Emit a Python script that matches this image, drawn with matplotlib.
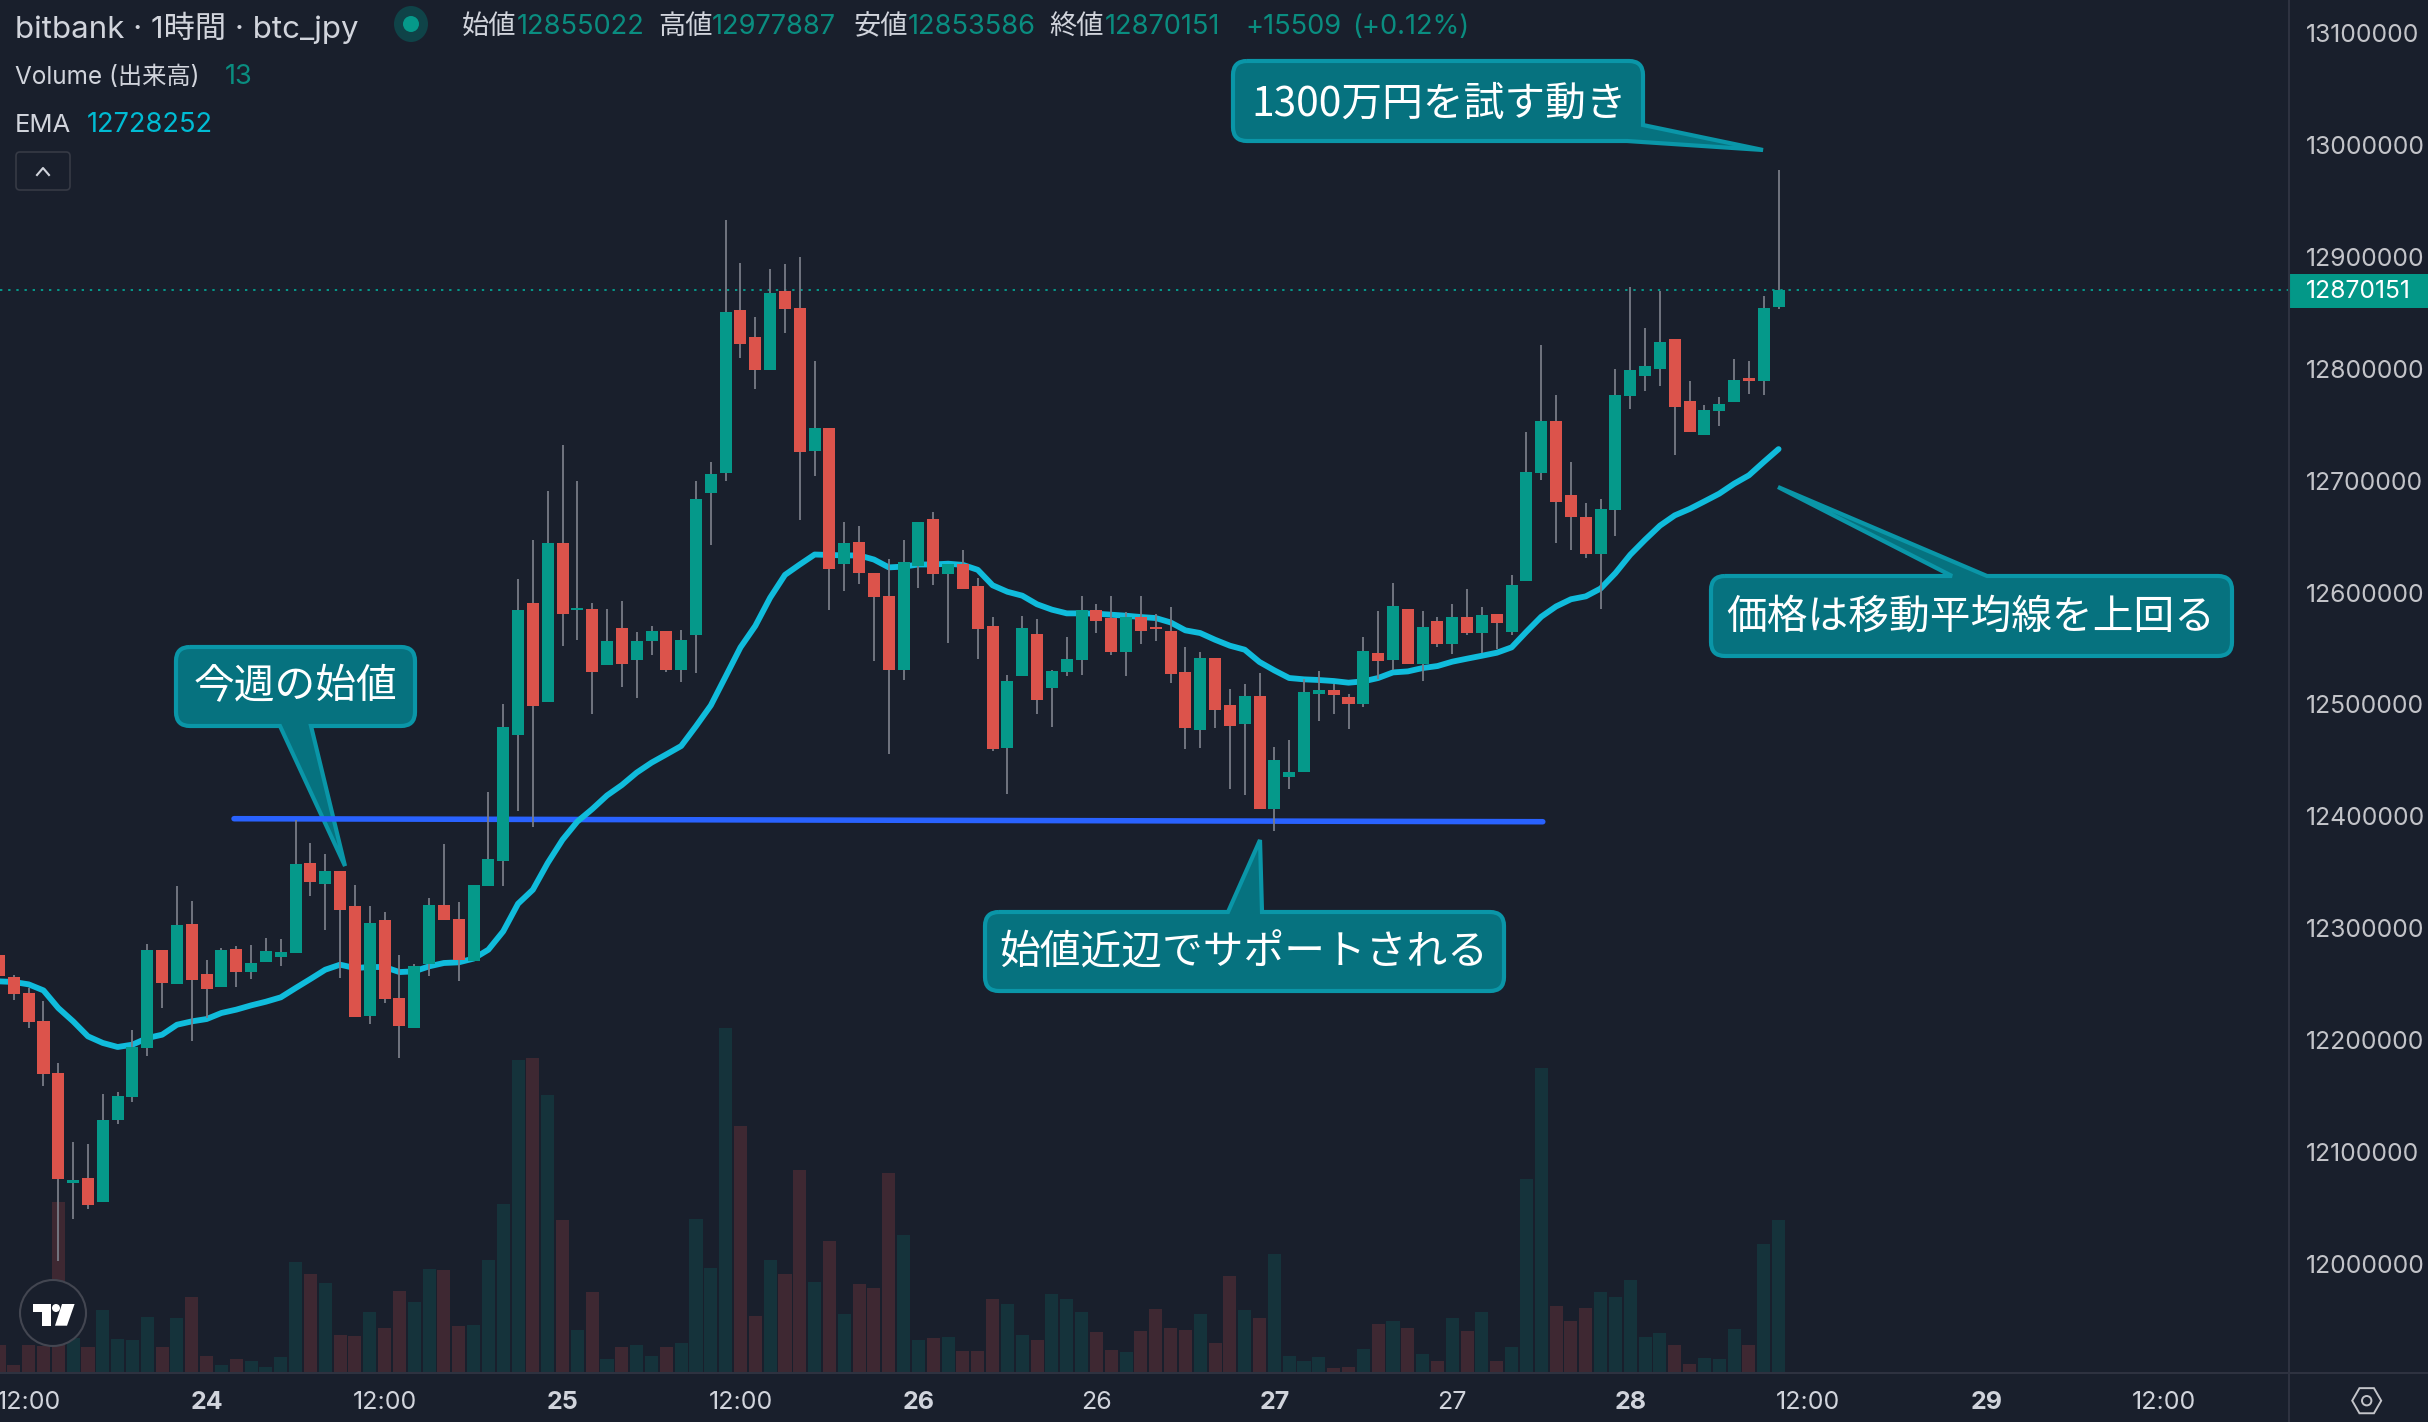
import numpy as np
import matplotlib
matplotlib.use("Agg")
import matplotlib.pyplot as plt
from matplotlib.patches import Circle, Ellipse, FancyBboxPatch, PathPatch, Polygon, Rectangle, RegularPolygon
from matplotlib.path import Path

# prices in thousand yen
opens = [12276.2, 12256.6, 12242.3, 12217.2, 12170.7, 12072.4, 12076.9, 12055.4, 12128.7, 12149.3,
         12193.1, 12280.7, 12250.3, 12303.9, 12259.2, 12247.6, 12281.6, 12261.0, 12270.0, 12274.4,
         12278.0, 12358.5, 12339.7, 12351.3, 12320.0, 12221.7, 12307.5, 12237.8, 12211.0, 12268.2,
         12320.9, 12308.4, 12270.9, 12337.9, 12360.3, 12472.8, 12591.0, 12502.4, 12644.7, 12584.7,
         12585.4, 12535.4, 12568.7, 12539.8, 12556.9, 12565.8, 12531.0, 12562.4, 12689.2, 12707.0,
         12853.0, 12828.9, 12799.3, 12869.7, 12854.5, 12727.0, 12747.4, 12625.1, 12645.5, 12617.7,
         12597.3, 12531.0, 12623.6, 12665.8, 12617.0, 12625.1, 12606.2, 12570.2, 12460.9, 12525.8,
         12563.2, 12514.9, 12529.2, 12540.0, 12584.7, 12577.5, 12547.1, 12578.4, 12569.5, 12565.9,
         12529.2, 12477.4, 12541.7, 12499.7, 12482.7, 12507.8, 12406.8, 12435.4, 12439.8, 12509.6,
         12513.1, 12506.9, 12500.6, 12546.2, 12540.0, 12585.6, 12536.4, 12574.8, 12554.3, 12578.4,
         12564.1, 12581.1, 12565.0, 12610.6, 12707.1, 12753.6, 12687.5, 12667.8, 12634.7, 12674.1,
         12776.0, 12793.9, 12800.1, 12826.9, 12771.5, 12741.1, 12762.6, 12770.6, 12792.1, 12789.4,
         12855.022]
highs = [12280.7, 12258.4, 12246.4, 12235.1, 12179.7, 12109.0, 12107.3, 12152.0, 12153.8, 12209.2,
         12286.1, 12280.7, 12337.9, 12324.5, 12271.8, 12282.5, 12284.3, 12285.2, 12291.4, 12290.5,
         12396.9, 12376.4, 12366.5, 12351.3, 12338.8, 12320.0, 12314.7, 12276.2, 12268.2, 12327.2,
         12375.5, 12323.6, 12338.8, 12422.0, 12500.5, 12612.5, 12647.3, 12691.0, 12732.2, 12700.0,
         12591.0, 12585.4, 12592.8, 12565.0, 12570.2, 12565.8, 12566.9, 12700.0, 12717.0, 12933.4,
         12894.9, 12846.7, 12889.7, 12894.1, 12900.1, 12807.4, 12747.4, 12663.2, 12659.9, 12617.7,
         12630.3, 12647.3, 12663.2, 12672.1, 12625.1, 12638.4, 12613.2, 12578.4, 12526.5, 12579.1,
         12576.5, 12531.0, 12560.5, 12597.2, 12590.0, 12597.2, 12582.9, 12597.2, 12581.1, 12587.3,
         12551.6, 12547.1, 12541.7, 12514.0, 12518.5, 12528.3, 12462.2, 12468.4, 12523.0, 12530.1,
         12518.5, 12509.6, 12560.5, 12583.8, 12608.8, 12585.6, 12583.8, 12578.4, 12590.0, 12603.4,
         12587.3, 12581.1, 12615.9, 12743.8, 12821.6, 12776.9, 12717.0, 12680.3, 12683.9, 12800.1,
         12873.4, 12836.8, 12869.8, 12826.9, 12789.4, 12767.9, 12775.1, 12809.1, 12807.3, 12865.4,
         12977.887]
lows = [12253.9, 12236.0, 12211.0, 12158.5, 12002.1, 12040.2, 12049.2, 12055.4, 12125.1, 12144.8,
        12185.9, 12228.8, 12250.3, 12199.3, 12219.9, 12247.6, 12247.6, 12254.8, 12270.0, 12266.4,
        12278.0, 12329.0, 12298.6, 12255.7, 12220.8, 12214.5, 12233.3, 12184.2, 12211.0, 12257.5,
        12307.5, 12253.0, 12270.9, 12337.9, 12337.9, 12404.6, 12390.8, 12502.4, 12552.4, 12557.2,
        12491.6, 12535.4, 12515.8, 12506.1, 12544.3, 12529.1, 12520.2, 12528.4, 12642.9, 12700.0,
        12810.0, 12782.2, 12799.3, 12832.2, 12665.1, 12704.4, 12584.7, 12601.7, 12608.0, 12538.4,
        12456.1, 12522.0, 12604.3, 12607.0, 12555.0, 12603.6, 12541.0, 12458.7, 12420.1, 12525.8,
        12491.6, 12480.1, 12525.7, 12526.6, 12564.1, 12544.4, 12525.7, 12554.3, 12556.9, 12519.4,
        12460.4, 12461.3, 12479.2, 12424.6, 12419.3, 12406.8, 12387.1, 12424.6, 12439.8, 12485.4,
        12491.7, 12478.3, 12497.9, 12523.0, 12531.0, 12536.4, 12521.2, 12551.6, 12545.3, 12562.3,
        12546.2, 12549.8, 12562.3, 12610.6, 12700.9, 12644.6, 12638.3, 12631.1, 12585.5, 12650.8,
        12764.4, 12780.4, 12784.9, 12723.2, 12743.8, 12741.1, 12749.2, 12770.6, 12777.8, 12776.9,
        12853.586]
closes = [12256.9, 12241.4, 12216.3, 12169.8, 12076.0, 12075.1, 12052.7, 12128.7, 12150.2, 12194.0,
          12280.7, 12251.2, 12303.0, 12253.9, 12245.8, 12280.7, 12261.0, 12269.1, 12279.8, 12278.9,
          12357.6, 12341.5, 12351.3, 12316.5, 12220.8, 12304.8, 12236.9, 12212.8, 12266.4, 12320.9,
          12307.5, 12271.8, 12338.8, 12362.1, 12480.2, 12584.7, 12498.7, 12644.7, 12581.0, 12586.5,
          12529.1, 12556.9, 12536.5, 12556.9, 12565.8, 12531.0, 12558.0, 12684.0, 12706.2, 12851.1,
          12822.6, 12799.3, 12868.2, 12853.7, 12725.9, 12747.4, 12621.4, 12644.7, 12617.7, 12596.2,
          12531.0, 12627.7, 12663.2, 12617.0, 12625.1, 12603.6, 12567.6, 12460.2, 12521.3, 12568.7,
          12504.3, 12530.1, 12540.9, 12584.7, 12574.8, 12547.1, 12578.4, 12565.9, 12567.7, 12527.4,
          12479.2, 12541.7, 12495.3, 12481.0, 12507.8, 12406.8, 12450.6, 12439.8, 12511.4, 12513.1,
          12508.7, 12500.6, 12548.0, 12539.1, 12588.2, 12536.4, 12569.5, 12554.3, 12578.4, 12564.1,
          12580.2, 12573.0, 12607.0, 12708.0, 12753.6, 12681.2, 12667.8, 12634.7, 12674.9, 12776.9,
          12799.2, 12802.8, 12824.3, 12766.1, 12743.8, 12763.5, 12768.8, 12790.3, 12789.4, 12854.6,
          12870.151]
ema = [12252.4, 12251.8, 12249.7, 12244.3, 12228.5, 12216.6, 12203.2, 12197.3, 12193.7, 12195.8,
       12201.7, 12204.7, 12213.6, 12216.6, 12218.7, 12224.1, 12227.1, 12230.9, 12234.2, 12238.1,
       12246.4, 12254.5, 12262.8, 12267.3, 12264.3, 12265.2, 12265.2, 12260.7, 12261.3, 12265.8,
       12268.8, 12269.4, 12272.7, 12280.7, 12297.1, 12321.8, 12334.3, 12358.2, 12379.0, 12395.3,
       12406.4, 12418.6, 12427.9, 12439.0, 12447.9, 12455.3, 12462.8, 12480.5, 12499.1, 12525.0,
       12551.0, 12570.2, 12595.4, 12615.8, 12625.1, 12634.0, 12633.6, 12633.2, 12633.2, 12629.5,
       12622.5, 12623.2, 12625.1, 12625.1, 12625.8, 12624.7, 12620.3, 12606.5, 12600.7, 12597.2,
       12589.5, 12584.7, 12581.4, 12581.4, 12581.1, 12580.2, 12579.3, 12578.1, 12577.2, 12573.3,
       12566.2, 12563.8, 12557.8, 12552.5, 12548.9, 12537.9, 12530.4, 12523.6, 12522.4, 12521.8,
       12520.9, 12519.4, 12520.6, 12523.6, 12528.6, 12529.5, 12532.5, 12534.3, 12538.2, 12540.9,
       12543.5, 12546.2, 12551.0, 12565.0, 12578.4, 12587.6, 12594.0, 12596.6, 12603.6, 12617.4,
       12633.8, 12647.2, 12659.8, 12669.0, 12674.7, 12681.5, 12688.4, 12697.3, 12704.8, 12716.7,
       12728.252]
volumes = [2.3, 0.6, 2.3, 2.2, 14.5, 2.9, 2.1, 5.3, 2.8, 2.7, 4.7, 2.1, 4.6, 6.4, 1.4, 0.6, 1.1, 0.9, 0.4, 1.3,
           9.4, 8.4, 7.6, 3.2, 3.1, 5.1, 3.8, 6.9, 6.0, 8.8, 8.7, 3.9, 4.0, 9.6, 14.4, 26.7, 26.8, 23.7, 13.0, 3.6,
           6.8, 1.1, 2.1, 2.3, 1.4, 2.1, 2.5, 13.1, 8.9, 29.4, 21.0, 4.8, 9.6, 8.4, 17.3, 7.7, 11.2, 5.0, 7.5, 7.2,
           17.0, 11.7, 2.7, 2.9, 3.0, 1.8, 1.8, 6.2, 5.8, 3.2, 2.7, 6.7, 6.2, 5.1, 3.4, 1.9, 1.7, 3.5, 5.4, 3.8,
           3.6, 5.0, 2.5, 8.2, 5.3, 4.6, 10.1, 1.4, 0.9, 1.3, 0.3, 0.4, 2.0, 4.1, 4.4, 3.8, 1.5, 0.9, 4.6, 3.5,
           5.1, 0.9, 2.1, 16.5, 26.0, 5.6, 4.4, 5.5, 6.8, 6.4, 7.9, 3.0, 3.3, 2.3, 0.7, 1.2, 1.1, 3.7, 2.3, 10.9,
           13.0]

x_ticks = [2, 14, 26, 38, 50, 62, 74, 86, 98, 110, 122, 134, 146]
x_labels = ["12:00", "24", "12:00", "25", "12:00", "26", "26", "27", "27", "28", "12:00", "29", "12:00"]
x_bold = ["24", "25", "26", "27", "28", "29"]
y_ticks = [12000000, 12100000, 12200000, 12300000, 12400000, 12500000,
           12600000, 12700000, 12800000, 12900000, 13000000, 13100000]
last_price = 12870151
support_bars = [15.85, 104.1]
support_prices = [12397800, 12395100]

BG = "#191f2c"
GREEN = "#05998a"
RED = "#dc534b"
VOL_GREEN = "#15333b"
VOL_RED = "#3e2832"
WICK = "#787b86"
CYAN = "#10bcdc"
BLUE = "#2962ff"
TEXT = "#d1d4dc"
AXIS = "#2e3240"
BOX = "#06727f"
BOX_EDGE = "#0a96a8"
JP = ["Inter", "Noto Sans CJK JP"]

W, H = 2428, 1422
PANE_R, PANE_B = 2289, 1372

opens = np.array(opens) * 1000
highs = np.array(highs) * 1000
lows = np.array(lows) * 1000
closes = np.array(closes) * 1000
ema = np.array(ema) * 1000
bars = np.arange(len(opens))
up = closes >= opens

fig = plt.figure(figsize=(W / 100, H / 100), dpi=100, facecolor=BG)
pane = [0, (H - PANE_B) / H, PANE_R / W, PANE_B / H]
xlim = (0.067, 154.42)
ylim = (11903128, 13129772)

# volume sits behind everything
ax_vol = fig.add_axes(pane, zorder=1, facecolor=BG)
ax_vol.bar(bars, volumes, width=0.88, color=np.where(up, VOL_GREEN, VOL_RED))
ax_vol.set_xlim(xlim)
ax_vol.set_ylim(0, PANE_B / 11.7)
ax_vol.axis("off")

# price pane
ax = fig.add_axes(pane, zorder=3, facecolor="none")
ax.axhline(last_price, color=GREEN, lw=1.4, ls=(0, (1.2, 3)), zorder=1)
ax.plot(bars, ema, color=CYAN, lw=4.2, solid_joinstyle="round", solid_capstyle="round", zorder=2)
ax.vlines(bars, lows, highs, color=WICK, lw=1.3, zorder=3)
ax.bar(bars, np.abs(closes - opens), bottom=np.minimum(opens, closes), width=0.81,
       color=np.where(up, GREEN, RED), zorder=4)
ax.set_xlim(xlim)
ax.set_ylim(ylim)
for s in ax.spines.values():
    s.set_visible(False)
ax.yaxis.tick_right()
ax.set_yticks(y_ticks)
ax.set_yticklabels([str(v) for v in y_ticks], family=JP, fontsize=17.8, color="#c3c4c9")
ax.set_xticks(x_ticks)
ax.set_xticklabels(x_labels, family=JP, fontsize=18, color=TEXT)
for t in ax.get_xticklabels():
    if t.get_text() in x_bold:
        t.set_fontweight("bold")
ax.get_xticklabels()[6].set_fontweight("normal")
ax.get_xticklabels()[8].set_fontweight("normal")
ax.tick_params(axis="y", length=0, pad=12)
ax.tick_params(axis="x", length=0, pad=14)

# pixel layer for the drawings under the candles
back = fig.add_axes([0, 0, 1, 1], zorder=2, facecolor="none")
back.set_xlim(0, W)
back.set_ylim(H, 0)
back.axis("off")


def callout(x0, y0, x1, y1, tail, side):
    r = 14
    v = [(x0 + r, y0)]
    c = [Path.MOVETO]
    if side == "top":
        v += tail
        c += [Path.LINETO] * 3
    v += [(x1 - r, y0), (x1, y0), (x1, y0 + r)]
    c += [Path.LINETO, Path.CURVE3, Path.CURVE3]
    if side == "corner":
        v += tail
        c += [Path.LINETO] * 3
    else:
        v += [(x1, y1 - r), (x1, y1), (x1 - r, y1)]
        c += [Path.LINETO, Path.CURVE3, Path.CURVE3]
    if side == "bottom":
        v += tail
        c += [Path.LINETO] * 3
    v += [(x0 + r, y1), (x0, y1), (x0, y1 - r), (x0, y0 + r), (x0, y0), (x0 + r, y0)]
    c += [Path.LINETO, Path.CURVE3, Path.CURVE3, Path.LINETO, Path.CURVE3, Path.CURVE3]
    back.add_patch(PathPatch(Path(v, c), fc=BOX, ec=BOX_EDGE, lw=3, joinstyle="miter", zorder=2))


def note(x, y, s):
    back.text(x, y, s, color="white", fontsize=29.3, ha="center", va="center",
              family="Noto Sans CJK JP", zorder=3)


callout(1233, 61, 1643, 141, [(1643, 125), (1763, 150), (1627, 141)], "corner")
note(1439, 104, "1300万円を試す動き")
callout(176, 647, 415, 726, [(311, 726), (345, 866), (280, 726)], "bottom")
note(295, 687, "今週の始値")
callout(985, 912, 1504, 991, [(1228, 912), (1260, 840), (1262, 912)], "top")
note(1244, 953, "始値近辺でサポートされる")
callout(1711, 576, 2232, 656, [(1952, 576), (1778, 487), (1987, 576)], "top")
note(1971, 617, "価格は移動平均線を上回る")

# support line, drawn by hand on the chart
back.plot(support_bars, support_prices, transform=ax.transData, color=BLUE, lw=4.0,
          solid_capstyle="round", zorder=4)
back.set_xlim(0, W)
back.set_ylim(H, 0)

# top layer: legend, scale furniture
ui = fig.add_axes([0, 0, 1, 1], zorder=4, facecolor="none")
ui.set_xlim(0, W)
ui.set_ylim(H, 0)
ui.axis("off")
ui.plot([0, W], [PANE_B + 0.5, PANE_B + 0.5], color=AXIS, lw=1.5)
ui.plot([PANE_R, PANE_R], [0, H], color=AXIS, lw=1.5)
ui.add_patch(Rectangle((PANE_R - 1, 274), W - PANE_R + 1, 34, fc="#039888", ec="none"))
ui.text(2306, 292, str(last_price), color="white", fontsize=17.8, family=JP, va="center")


def label(x, y, s, color=TEXT, size=17.5):
    ui.text(x, y, s, color=color, fontsize=size, family=JP, va="center", ha="left")


VAL = "#0a8d80"
label(15, 28, "bitbank · 1時間 · btc_jpy", size=22.5)
ui.add_patch(Ellipse((411, 24), 34, 36, fc="#0f4348", ec="none"))
ui.add_patch(Circle((411, 24), 8, fc=GREEN, ec="none"))
for x, s in [(462, "始値"), (658, "高値"), (853, "安値"), (1049, "終値")]:
    label(x, 27, s, size=19.6)
for x, s in [(517, "12855022"), (712, "12977887"), (908, "12853586"), (1105, "12870151"),
             (1245, "+15509"), (1352, "(+0.12%)")]:
    label(x, 27, s, color=VAL, size=19.6)
label(15, 77, "Volume (出来高)")
label(225, 77, "13", color=VAL, size=19.6)
label(15, 125, "EMA", size=18.5)
label(87, 125, "12728252", color="#00bcd4", size=19.6)

# collapse button
ui.add_patch(FancyBboxPatch((18, 154), 50, 34, boxstyle="round,pad=2,rounding_size=4",
                            fc=BG, ec="#363a45", lw=1.2))
ui.plot([37, 43, 49], [175, 168, 175], color=TEXT, lw=1.5)

# TradingView logo
ui.add_patch(Ellipse((53, 1313), 66, 66, fc=BG, ec="#434651", lw=1.5))
ui.add_patch(Polygon([(32.7, 1304), (50.5, 1304), (50.5, 1325.7), (42, 1325.7), (42, 1311.7), (32.7, 1311.7)],
                     fc="white", ec="none"))
ui.add_patch(Circle((56, 1308), 4, fc="white", ec="none"))
ui.add_patch(Polygon([(62, 1304), (74.6, 1304), (67, 1325.7), (55, 1325.7)], fc="white", ec="none"))

# settings icon
ui.add_patch(RegularPolygon((2366.7, 1400.7), 6, radius=14.5, orientation=np.pi / 6, fc="none", ec="#c3c4c9", lw=1.4))
ui.add_patch(Circle((2366.7, 1400.7), 4.7, fc="none", ec="#c3c4c9", lw=1.4))

fig.savefig("out.png", dpi=100, facecolor=BG)
